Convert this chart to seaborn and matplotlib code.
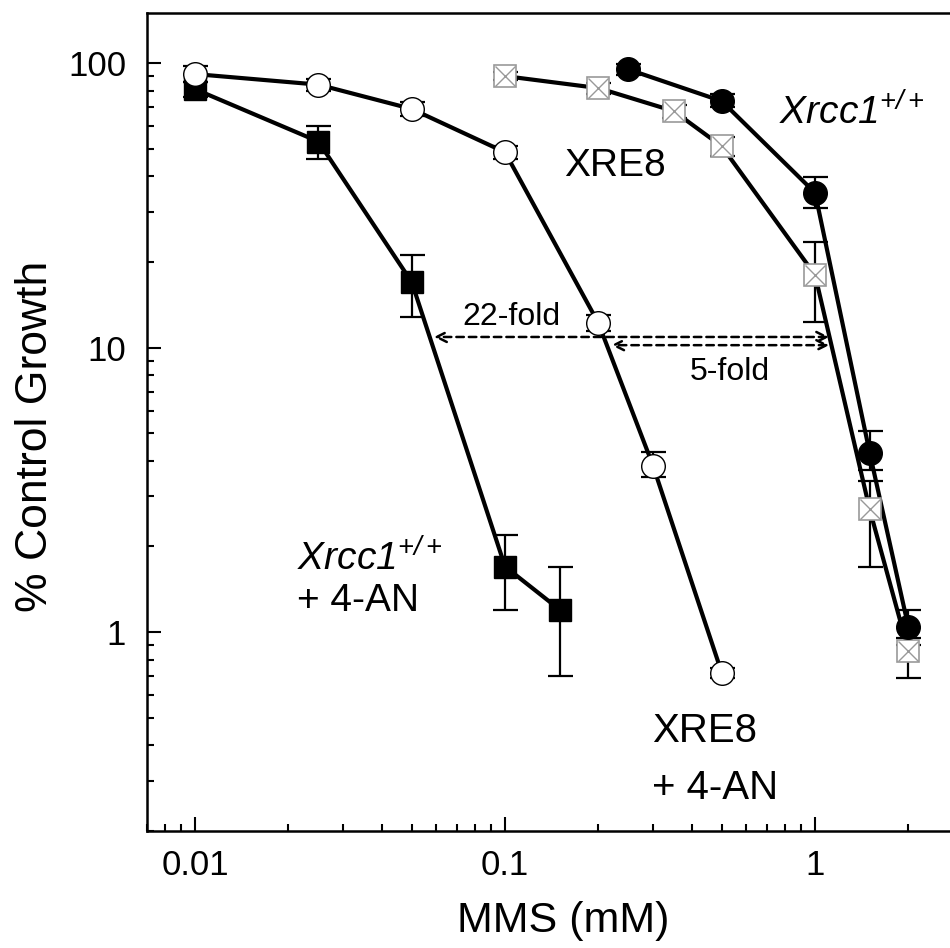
import numpy as np
import pandas as pd
import matplotlib
matplotlib.use("Agg")
import matplotlib.pyplot as plt
import seaborn as sns

sns.set_style("ticks")
plt.rcParams['font.family'] = ['Liberation Sans', 'DejaVu Sans']
plt.rcParams['mathtext.fontset'] = 'custom'
plt.rcParams['mathtext.rm'] = 'Liberation Sans:italic'
plt.rcParams['mathtext.it'] = 'Liberation Sans:italic'
for key in ['text.color', 'axes.labelcolor', 'xtick.color', 'ytick.color', 'axes.edgecolor']:
    plt.rcParams[key] = 'black'

# Xrcc1+/+ + 4-AN (filled squares)
wt_an_dose = [0.01, 0.025, 0.05, 0.1, 0.15]
wt_an_growth = [81, 53, 17, 1.7, 1.2]
wt_an_lo = [76, 46, 12.8, 1.2, 0.7]
wt_an_hi = [86, 60, 21.2, 2.2, 1.7]

# XRE8 + 4-AN (open circles)
xre_an_dose = [0.01, 0.025, 0.05, 0.1, 0.2, 0.3, 0.5]
xre_an_growth = [91.5, 84, 69, 48.6, 12.2, 3.85, 0.72]
xre_an_lo = [86, 80, 65, 46, 11.4, 3.5, 0.69]
xre_an_hi = [98, 88, 73, 51, 13, 4.3, 0.75]

# XRE8 (crossed squares)
xre_dose = [0.1, 0.2, 0.35, 0.5, 1, 1.5, 2]
xre_growth = [90, 81.7, 67.8, 51, 18, 2.7, 0.86]
xre_lo = [87, 78, 64, 47, 12.3, 1.7, 0.69]
xre_hi = [93, 85, 71, 55, 23.6, 3.4, 0.95]

# Xrcc1+/+ (filled circles)
wt_dose = [0.25, 0.5, 1, 1.5, 2]
wt_growth = [95, 73.5, 35, 4.27, 1.04]
wt_lo = [91, 70, 30.9, 3.7, 0.9]
wt_hi = [99, 78, 39.7, 5.1, 1.2]

# fold-change arrows (dose at 10% growth)
fold_22_x = [0.059, 1.11]
fold_22_y = 10.9
fold_5_x = [0.22, 1.11]
fold_5_y = 10.2

series = [
    ("wt_an", wt_an_dose, wt_an_growth, wt_an_lo, wt_an_hi),
    ("xre_an", xre_an_dose, xre_an_growth, xre_an_lo, xre_an_hi),
    ("xre", xre_dose, xre_growth, xre_lo, xre_hi),
    ("wt", wt_dose, wt_growth, wt_lo, wt_hi),
]
df = pd.concat([pd.DataFrame({"line": n, "dose": d, "growth": g})
                for n, d, g, lo, hi in series])

fig = plt.figure(figsize=(9.5, 9.48), dpi=100)
ax = fig.add_axes([0.1547, 0.1234, 0.859, 0.8629])

sns.lineplot(data=df, x="dose", y="growth", units="line", estimator=None,
             color="black", lw=3, ax=ax, zorder=2, sort=False)

for n, d, g, lo, hi in series:
    g = np.array(g)
    yerr = [g - np.array(lo), np.array(hi) - g]
    ax.errorbar(d, g, yerr=yerr, fmt="none", ecolor="black", elinewidth=1.6,
                capsize=9, capthick=1.6, zorder=3)

ax.plot(wt_an_dose, wt_an_growth, "s", ms=16, mfc="black", mec="black", zorder=4)
ax.plot(xre_an_dose, xre_an_growth, "o", ms=17, mfc="white", mec="black", mew=1, zorder=4)
ax.plot(xre_dose, xre_growth, "s", ms=16, mfc="white", mec="#999999", mew=1.2, zorder=4)
ax.plot(xre_dose, xre_growth, "x", ms=15, mec="#999999", mew=1, zorder=5)
ax.plot(wt_dose, wt_growth, "o", ms=17, mfc="black", mec="black", zorder=4)

arrow = dict(arrowstyle="<->", linestyle=(0, (3, 2)), lw=1.8, color="black",
             shrinkA=0, shrinkB=0, mutation_scale=18)
ax.annotate("", xy=(fold_22_x[0], fold_22_y), xytext=(fold_22_x[1], fold_22_y),
            arrowprops=arrow, zorder=6)
ax.annotate("", xy=(fold_5_x[0], fold_5_y), xytext=(fold_5_x[1], fold_5_y),
            arrowprops=arrow, zorder=6)

ax.set_xscale("log")
ax.set_yscale("log")
ax.set_xlim(0.007, 3)
ax.set_ylim(0.2, 150)
ax.set_xticks([0.01, 0.1, 1])
ax.set_xticklabels(["0.01", "0.1", "1"])
ax.set_yticks([1, 10, 100])
ax.set_yticklabels(["1", "10", "100"])
ax.tick_params(which="major", direction="in", length=10, width=1.5, labelsize=25)
ax.tick_params(axis="x", which="major", pad=13)
ax.tick_params(axis="y", which="major", pad=15)
ax.tick_params(which="minor", direction="in", length=5, width=1.5)
ax.yaxis.set_minor_formatter(matplotlib.ticker.NullFormatter())
ax.xaxis.set_minor_formatter(matplotlib.ticker.NullFormatter())
for s in ax.spines.values():
    s.set_linewidth(1.8)
ax.spines["right"].set_visible(False)

ax.set_xlabel("MMS (mM)", fontsize=31)
ax.xaxis.set_label_coords(0.51, -0.085)
ax.set_ylabel("% Control Growth", fontsize=32)
ax.yaxis.set_label_coords(-0.112, 0.483)

ax.text(0.766, 61, r"$Xrcc1^{+/+}$", fontsize=28, va="baseline")
ax.text(0.155, 40, "XRE8", fontsize=28, va="baseline")
ax.text(0.1045, 12, "22-fold", fontsize=23, ha="center", va="baseline")
ax.text(0.532, 7.7, "5-fold", fontsize=23, ha="center", va="baseline")
ax.text(0.0213, 1.64, r"$Xrcc1^{+/+}$", fontsize=28, va="baseline")
ax.text(0.0213, 1.19, "+ 4-AN", fontsize=28, va="baseline")
ax.text(0.298, 0.41, "XRE8", fontsize=29, va="baseline")
ax.text(0.298, 0.26, "+ 4-AN", fontsize=29, va="baseline")

fig.savefig("out.png", dpi=100)
